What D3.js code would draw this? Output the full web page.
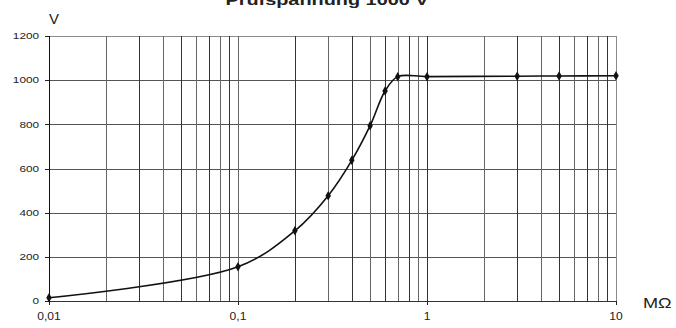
<!DOCTYPE html>
<html>
<head>
<meta charset="utf-8">
<script src="https://cdn.jsdelivr.net/npm/d3@7"></script>
<style>
  html, body { margin: 0; padding: 0; background: #fff; }
  svg { display: block; }
  text { font-family: "Liberation Sans", Arial, sans-serif; fill: #222; }
</style>
</head>
<body>
<svg id="chart" width="676" height="328"></svg>
<script>
// ---- data ----
const resistance = [0.01, 0.1, 0.2, 0.3, 0.4, 0.5, 0.6, 0.7, 1, 3, 5, 10];   // MΩ
const voltage    = [15, 155, 318, 477, 637, 794, 951, 1016, 1016, 1018, 1019, 1020]; // V
const xTickValues = [0.01, 0.1, 1, 10];
const xTickLabels = ["0,01", "0,1", "1", "10"];
const yTickValues = [0, 200, 400, 600, 800, 1000, 1200];
const yTickLabels = ["0", "200", "400", "600", "800", "1000", "1200"];
const titleText = "Prüfspannung 1000 V";
const yUnit = "V";
const xUnit = "MΩ";

(function () {
// ---- layout ----
const svg = d3.select("#chart");
const mL = 49, mR = 616, mT = 36, mB = 301;

const x = d3.scaleLog().domain([0.01, 10]).range([mL, mR]);
const y = d3.scaleLinear().domain([0, 1200]).range([mB, mT]);

// minor + major grid values for log axis
const gridX = [];
for (let e = -2; e <= 0; e++) {
  for (let m = 1; m <= 9; m++) gridX.push(m * Math.pow(10, e));
}
gridX.push(10);

const g = svg.append("g");

// horizontal grid
g.selectAll("line.hg").data(yTickValues).enter().append("line")
  .attr("x1", mL).attr("x2", mR)
  .attr("y1", d => Math.round(y(d)) + 0.5).attr("y2", d => Math.round(y(d)) + 0.5)
  .attr("stroke", d => d === 1200 ? "#8a8a8a" : "#555")
  .attr("stroke-width", 1);

// vertical grid
g.selectAll("line.vg").data(gridX).enter().append("line")
  .attr("x1", d => Math.round(x(d)) + 0.5).attr("x2", d => Math.round(x(d)) + 0.5)
  .attr("y1", mT).attr("y2", mB)
  .attr("stroke", (d, i) => (d === 10) ? "#8a8a8a" : (i % 2 ? "#666" : "#333"))
  .attr("stroke-width", 1);

// y axis line
g.append("line").attr("x1", mL + 0.5).attr("x2", mL + 0.5)
  .attr("y1", mT).attr("y2", mB + 1).attr("stroke", "#111");
// x axis line
g.append("line").attr("x1", mL).attr("x2", mR + 1)
  .attr("y1", Math.round(y(0)) + 0.5).attr("y2", Math.round(y(0)) + 0.5).attr("stroke", "#333");

// y ticks & labels
g.selectAll("line.yt").data(yTickValues).enter().append("line")
  .attr("x1", mL - 4).attr("x2", mL)
  .attr("y1", d => Math.round(y(d)) + 0.5).attr("y2", d => Math.round(y(d)) + 0.5)
  .attr("stroke", "#222");
g.selectAll("text.yl").data(yTickValues).enter().append("text")
  .attr("transform", d => `translate(${mL - 10},${y(d) + 3.3}) scale(1.28,1)`)
  .attr("text-anchor", "end")
  .attr("font-size", 9.2)
  .text((d, i) => yTickLabels[i]);

// x ticks & labels
g.selectAll("line.xt").data(xTickValues).enter().append("line")
  .attr("x1", d => Math.round(x(d)) + 0.5).attr("x2", d => Math.round(x(d)) + 0.5)
  .attr("y1", mB).attr("y2", mB + 4)
  .attr("stroke", "#222");
g.selectAll("text.xl").data(xTickValues).enter().append("text")
  .attr("transform", d => `translate(${x(d)},${mB + 18.5}) scale(1.15,1)`)
  .attr("text-anchor", "middle")
  .attr("font-size", 10.5)
  .text((d, i) => xTickLabels[i]);

// units
svg.append("text").attr("x", mL).attr("y", 23.5)
  .attr("font-size", 15).text(yUnit);
svg.append("text").attr("transform", `translate(643,307.5) scale(1.25,1)`)
  .attr("font-size", 14.5).text(xUnit);

// title (cut off at top, as in the reference)
svg.append("text").attr("transform", `translate(327,4.5) scale(1.42,1)`)
  .attr("text-anchor", "middle").attr("font-weight", "bold")
  .attr("font-size", 14).text(titleText);

// curve
const pts = resistance.map((r, i) => [r, voltage[i]]);
const line = d3.line().x(d => x(d[0])).y(d => y(d[1])).curve(d3.curveCatmullRom.alpha(0.5));
g.append("path").datum(pts).attr("d", line)
  .attr("fill", "none").attr("stroke", "#111").attr("stroke-width", 1.6);

// markers
g.selectAll("path.pt").data(pts).enter().append("path")
  .attr("d", d3.symbol().type(d3.symbolDiamond).size(26))
  .attr("transform", d => `translate(${x(d[0])},${y(d[1])})`)
  .attr("fill", "#111");
})();
</script>
</body>
</html>
